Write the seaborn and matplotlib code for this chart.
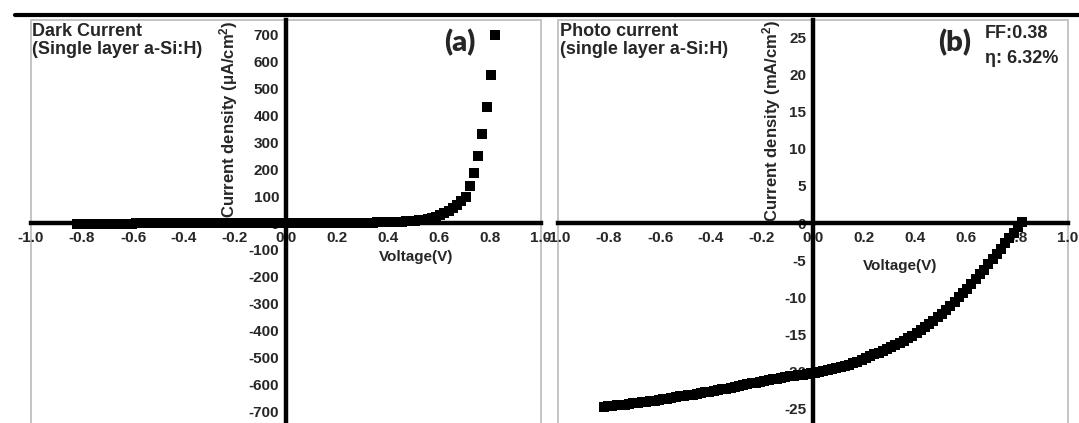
import numpy as np
import pandas as pd
import matplotlib
matplotlib.use("Agg")
import matplotlib.pyplot as plt
import seaborn as sns
from matplotlib.ticker import MultipleLocator, FormatStrFormatter
from matplotlib.patches import Rectangle
from matplotlib.lines import Line2D

# ================== data ==================
voltage = [
    -0.820, -0.803, -0.787, -0.770, -0.754, -0.737, -0.721, -0.704, -0.687, -0.671,
    -0.654, -0.638, -0.621, -0.605, -0.588, -0.572, -0.555, -0.538, -0.522, -0.505,
    -0.489, -0.472, -0.456, -0.439, -0.422, -0.406, -0.389, -0.373, -0.356, -0.340,
    -0.323, -0.306, -0.290, -0.273, -0.257, -0.240, -0.224, -0.207, -0.191, -0.174,
    -0.157, -0.141, -0.124, -0.108, -0.091, -0.075, -0.058, -0.041, -0.025, -0.008,
    0.008, 0.025, 0.041, 0.058, 0.075, 0.091, 0.108, 0.124, 0.141, 0.157,
    0.174, 0.191, 0.207, 0.224, 0.240, 0.257, 0.273, 0.290, 0.306, 0.323,
    0.340, 0.356, 0.373, 0.389, 0.406, 0.422, 0.439, 0.456, 0.472, 0.489,
    0.505, 0.522, 0.538, 0.555, 0.572, 0.588, 0.605, 0.621, 0.638, 0.654,
    0.671, 0.687, 0.704, 0.721, 0.737, 0.754, 0.770, 0.787, 0.803, 0.820,
]

# dark current density, uA/cm2
dark_current = [
    -2.6, -2.5, -2.5, -2.4, -2.4, -2.3, -2.3, -2.2, -2.2, -2.1,
    -2.0, -2.0, -1.9, -1.9, -1.8, -1.8, -1.7, -1.7, -1.6, -1.6,
    -1.5, -1.5, -1.4, -1.4, -1.3, -1.3, -1.2, -1.2, -1.1, -1.1,
    -1.0, -1.0, -0.9, -0.9, -0.8, -0.8, -0.7, -0.7, -0.6, -0.6,
    -0.5, -0.5, -0.4, -0.4, -0.3, -0.3, -0.2, -0.2, -0.1, -0.05,
    0.05, 0.1, 0.15, 0.2, 0.25, 0.3, 0.35, 0.4, 0.45, 0.5,
    0.55, 0.6, 0.7, 0.8, 0.9, 1.0, 1.1, 1.2, 1.4, 1.6,
    1.8, 2.0, 2.3, 2.6, 3.0, 3.5, 4.1, 4.9, 5.8, 7.0,
    8.5, 10.3, 12.6, 15.4, 18.9, 23.3, 28.8, 35.6, 44.0, 54.0,
    66.0, 80.0, 98.0, 138.0, 184.0, 249.0, 328.0, 431.0, 548.0, 696.0,
]

# photo current density, mA/cm2
photo_current = [
    -24.8, -24.75, -24.7, -24.6, -24.55, -24.5, -24.4, -24.3, -24.25, -24.2,
    -24.1, -24.05, -24.0, -23.9, -23.8, -23.7, -23.6, -23.5, -23.4, -23.3,
    -23.25, -23.15, -23.05, -22.95, -22.85, -22.75, -22.65, -22.55, -22.45, -22.35,
    -22.25, -22.1, -22.0, -21.9, -21.75, -21.65, -21.55, -21.45, -21.35, -21.2,
    -21.1, -21.0, -20.9, -20.75, -20.7, -20.6, -20.5, -20.45, -20.35, -20.3,
    -20.2, -20.1, -20.0, -19.85, -19.75, -19.6, -19.45, -19.3, -19.1, -18.9,
    -18.7, -18.45, -18.2, -18.0, -17.7, -17.5, -17.3, -17.05, -16.8, -16.5,
    -16.2, -15.9, -15.5, -15.2, -14.8, -14.4, -14.0, -13.6, -13.2, -12.7,
    -12.25, -11.75, -11.2, -10.6, -10.0, -9.45, -8.9, -8.25, -7.6, -6.95,
    -6.3, -5.6, -4.9, -4.2, -3.45, -2.75, -2.0, -1.3, -0.6, 0.1,
]

df = pd.DataFrame({"V": voltage, "dark": dark_current, "photo": photo_current})

# ================== style ==================
sns.set_theme(style="white")
plt.rcParams["font.family"] = ["Liberation Sans", "DejaVu Sans"]
plt.rcParams["font.weight"] = "bold"
plt.rcParams["axes.unicode_minus"] = False
plt.rcParams["mathtext.fontset"] = "custom"
plt.rcParams["mathtext.rm"] = "Liberation Sans:bold"
plt.rcParams["mathtext.it"] = "Liberation Sans:bold"
plt.rcParams["mathtext.bf"] = "Liberation Sans:bold"

W, H = 1079, 423
fig = plt.figure(figsize=(W / 100, H / 100), dpi=100)


def px(x, y):
    # pixel position -> figure fraction
    return x / W, 1 - y / H


ax1 = fig.add_axes([31 / W, -3 / H, 510 / W, 406 / H])
ax2 = fig.add_axes([558 / W, -3 / H, 510 / W, 406 / H])


def style_axes(ax, ylim, ymajor, yminor):
    ax.set_xlim(-1.0, 1.0)
    ax.set_ylim(-ylim, ylim)
    for side in ["top", "right"]:
        ax.spines[side].set_visible(False)
    for side in ["left", "bottom"]:
        ax.spines[side].set_position(("data", 0))
        ax.spines[side].set_color("black")
        ax.spines[side].set_linewidth(3.2)
    ax.add_patch(Rectangle((0, 0), 1, 1, transform=ax.transAxes, fill=False,
                           ec="#c4c4c4", lw=1.4, clip_on=False, zorder=0))
    ax.xaxis.set_major_locator(MultipleLocator(0.2))
    ax.xaxis.set_minor_locator(MultipleLocator(0.1))
    ax.xaxis.set_major_formatter(FormatStrFormatter("%.1f"))
    ax.yaxis.set_major_locator(MultipleLocator(ymajor))
    ax.yaxis.set_minor_locator(MultipleLocator(yminor))
    ax.yaxis.set_major_formatter(FormatStrFormatter("%d"))
    ax.tick_params(which="both", direction="in", color="black", width=2.2)
    ax.tick_params(which="major", length=5.5)
    ax.tick_params(which="minor", length=3)
    ax.tick_params(axis="x", labelsize=11, pad=6)
    ax.tick_params(axis="y", labelsize=11, pad=5)
    ax.set_xlabel("")
    ax.set_ylabel("")


sns.scatterplot(data=df, x="V", y="dark", marker="s", s=58, color="black",
                edgecolor="black", linewidth=0, ax=ax1, legend=False)
sns.scatterplot(data=df, x="V", y="photo", marker="s", s=58, color="black",
                edgecolor="black", linewidth=0, ax=ax2, legend=False)

style_axes(ax1, 752, 100, 50)
style_axes(ax2, 27.4, 5, 2.5)

# the "-1.0" of panel (b) sits over the end of panel (a)'s "1.0", as in the original
ax2.figure.canvas.draw()
ax2.get_xticklabels()[0].set_bbox(dict(facecolor="white", edgecolor="none", pad=0))

# axis titles
ax1.text(0.388, 1.0, "Current density (μA/cm$^{2}$)", rotation=90, ha="center",
         va="top", fontsize=12, fontweight="bold", transform=ax1.transAxes)
ax2.text(0.418, 1.0, "Current density (mA/cm$^{2}$)", rotation=90, ha="center",
         va="top", fontsize=12, fontweight="bold", transform=ax2.transAxes)
ax1.text(0.755, 0.434, "Voltage(V)", ha="center", va="top", fontsize=11,
         fontweight="bold", transform=ax1.transAxes)
ax2.text(0.67, 0.411, "Voltage(V)", ha="center", va="top", fontsize=11,
         fontweight="bold", transform=ax2.transAxes)

# panel notes
fig.text(*px(32, 23), "Dark Current\n(Single layer a-Si:H)", ha="left", va="top",
         fontsize=13, fontweight="bold", linespacing=1.05)
fig.text(*px(560, 23), "Photo current\n(single layer a-Si:H)", ha="left", va="top",
         fontsize=13, fontweight="bold", linespacing=1.05)
fig.text(*px(460, 43), "(a)", ha="center", va="center", fontsize=21,
         fontweight="heavy", family=["Lato", "DejaVu Sans"])
fig.text(*px(955, 43), "(b)", ha="center", va="center", fontsize=21,
         fontweight="heavy", family=["Lato", "DejaVu Sans"])
fig.text(*px(985, 25), "FF:0.38", ha="left", va="top", fontsize=13,
         fontweight="bold")
fig.text(*px(985, 50), "η: 6.32%", ha="left", va="top", fontsize=13,
         fontweight="bold")

# thick rule along the top
fig.add_artist(Line2D([15 / W, 1.0], [1 - 15 / H, 1 - 15 / H], color="black",
                      lw=3, transform=fig.transFigure))

fig.savefig("out.png", dpi=100)
